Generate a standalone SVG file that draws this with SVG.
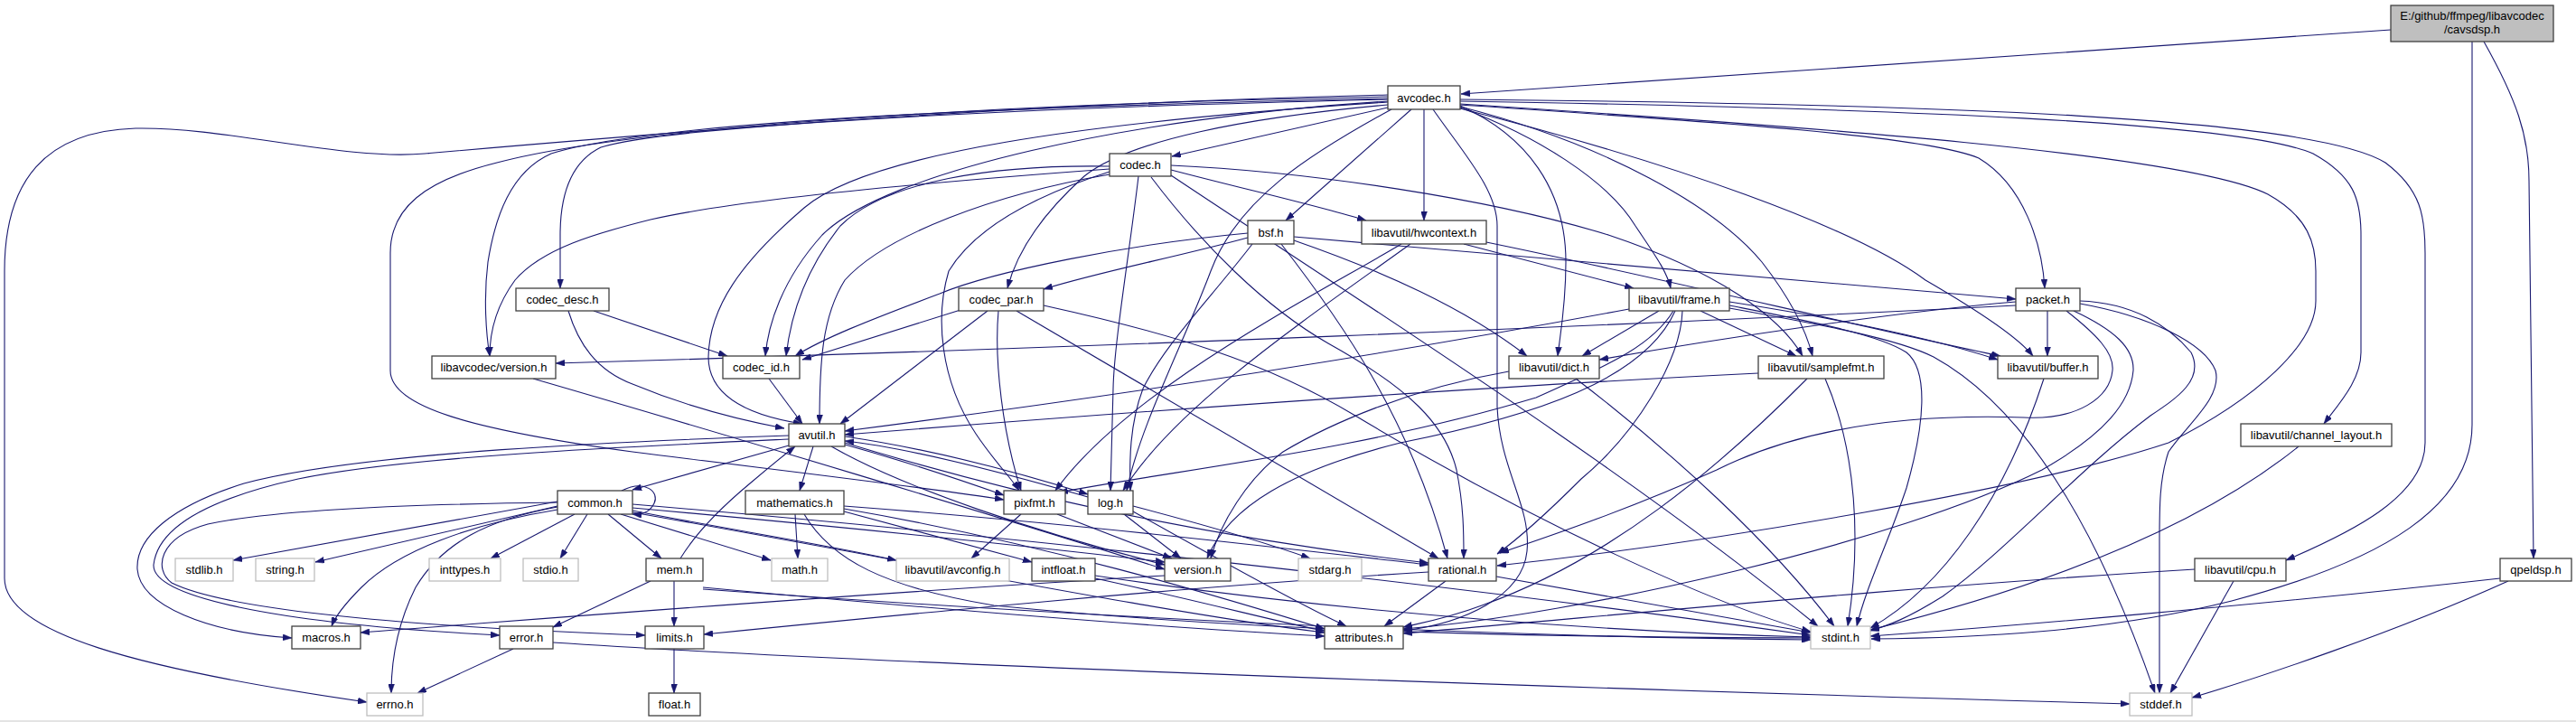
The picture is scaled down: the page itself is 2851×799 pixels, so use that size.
<svg xmlns="http://www.w3.org/2000/svg" width="2851" height="799" viewBox="0 0 2851 799">
<style>
.n rect{fill:#ffffff;stroke:#404040;stroke-width:1.3}
.s rect{fill:#ffffff;stroke:#bfbfbf;stroke-width:1.3}
.r rect{fill:#bfbfbf;stroke:#404040;stroke-width:1.3}
text{font-family:"Liberation Sans",Arial,sans-serif;font-size:13px;text-anchor:middle;fill:#000000}
#edges path{fill:none;stroke:#191970;stroke-width:1.1;marker-end:url(#a)}
</style>
<defs>
<marker id="a" viewBox="0 0 10 7" refX="10" refY="3.5" markerWidth="10" markerHeight="7" markerUnits="userSpaceOnUse" orient="auto"><path d="M0,0L10,3.5L0,7z" fill="#191970" stroke="#191970" stroke-width="0.5"/></marker>
</defs>
<rect x="0" y="0" width="2851" height="799" fill="#ffffff"/>
<line x1="0" y1="798" x2="2851" y2="798" stroke="#c8c8c8" stroke-width="1"/>
<g id="edges">
<path d="M2646,33 C2200,64 1900,84 1617,104"/>
<path d="M2736,46 L2736,470 C2736,560 2640,620 2470,665 C2330,700 2180,706 2071,707"/>
<path d="M2749,46 C2785,110 2799,150 2799,200 L2804,618"/>
<path d="M1536,105 C1100,115 700,150 470,170 C380,178 250,140 150,142 C50,145 5,200 5,300 L5,640 C5,700 150,740 406,777"/>
<path d="M1536,107 C1100,115 700,140 550,180 C470,200 432,230 432,280 L432,410 C432,450 520,475 700,500 C900,525 1030,540 1111,553"/>
<path d="M1536,109 C1100,118 720,135 610,170 C565,190 548,240 540,290 C535,330 538,370 542,394"/>
<path d="M1536,110 C1100,120 740,140 665,163 C630,180 620,220 620,260 L620,319"/>
<path d="M1536,112 C1250,130 980,190 910,260 C865,310 850,360 847,394"/>
<path d="M1536,113 C1200,135 960,170 890,230 C820,290 785,340 784,395 C784,440 830,460 888,469"/>
<path d="M1536,119 L1297,173"/>
<path d="M1536,116 C1380,130 1250,155 1200,195 C1150,240 1125,280 1115,319"/>
<path d="M1540,121 C1450,170 1370,220 1340,300 C1310,380 1262,470 1247,543"/>
<path d="M1562,121 L1423,244"/>
<path d="M1576,121 L1576,244"/>
<path d="M1586,121 C1620,170 1657,210 1657,250 L1657,450 C1660,520 1695,560 1690,610 C1685,660 1620,690 1553,698"/>
<path d="M1616,117 C1690,150 1733,210 1733,290 C1733,340 1726,375 1724,394"/>
<path d="M1616,119 C1700,150 1780,200 1810,250 C1830,280 1845,300 1849,319"/>
<path d="M1616,118 C1780,160 1900,230 1950,290 C1985,335 2000,370 2006,394"/>
<path d="M1616,120 C1850,180 2050,250 2131,310 C2200,350 2235,375 2250,394"/>
<path d="M1616,116 C1900,135 2130,150 2190,175 C2240,205 2260,270 2263,319"/>
<path d="M1616,115 C2000,140 2420,170 2510,215 C2555,240 2563,270 2563,300 L2563,333 C2563,380 2500,440 2400,490 C2250,540 1900,600 1657,626"/>
<path d="M1616,112 C2100,120 2480,135 2560,170 C2605,195 2613,220 2613,260 L2613,390 C2613,420 2590,445 2572,469"/>
<path d="M1616,110 C2150,115 2560,130 2640,180 C2680,210 2684,240 2684,280 L2684,490 C2684,550 2600,590 2530,620"/>
<path d="M1228,187 C1050,200 820,220 720,243 C660,258 600,275 570,310 C548,340 542,370 542,394"/>
<path d="M1228,184 C1100,182 980,200 930,250 C890,300 875,350 870,394"/>
<path d="M1228,193 C1100,215 980,260 935,310 C910,350 907,400 907,469"/>
<path d="M1228,190 C1150,215 1080,250 1050,300 C1035,350 1040,420 1080,480 C1100,510 1120,530 1128,543"/>
<path d="M1260,195 C1250,280 1233,380 1232,430 L1229,543"/>
<path d="M1274,196 C1330,270 1400,340 1470,380 C1560,430 1600,470 1612,520 C1620,560 1620,590 1620,618"/>
<path d="M1296,188 C1380,210 1460,228 1512,244"/>
<path d="M1296,194 C1500,330 1800,520 2012,693"/>
<path d="M1296,183 C1450,190 1650,220 1780,260 C1900,300 1970,350 1995,394"/>
<path d="M1381,258 C1250,270 1100,300 1040,325 C960,355 910,375 880,394"/>
<path d="M1381,263 C1300,285 1220,300 1155,320"/>
<path d="M1432,262 L2231,331"/>
<path d="M1432,266 C1530,300 1620,340 1690,394"/>
<path d="M1386,270 C1340,330 1290,380 1265,430 C1250,470 1250,510 1251,543"/>
<path d="M1418,270 C1480,350 1560,460 1602,618"/>
<path d="M1645,268 C1850,310 2050,360 2214,394"/>
<path d="M1620,270 L1808,319"/>
<path d="M1561,270 C1450,350 1300,450 1243,543"/>
<path d="M1551,270 C1450,330 1250,430 1168,543"/>
<path d="M657,344 L805,394"/>
<path d="M629,344 C640,380 660,410 700,425 C760,450 820,465 868,474"/>
<path d="M1063,343 L888,398"/>
<path d="M1093,344 L930,469"/>
<path d="M1105,344 C1100,400 1110,480 1130,543"/>
<path d="M1125,344 L1592,618"/>
<path d="M1155,338 C1300,370 1400,400 1500,460 C1700,580 1900,670 2004,699"/>
<path d="M1836,344 L1751,394"/>
<path d="M1882,344 L1988,394"/>
<path d="M1803,342 C1600,380 1300,430 935,477"/>
<path d="M1852,344 C1830,380 1790,400 1700,440 C1500,500 1300,520 1172,545"/>
<path d="M1854,344 C1820,420 1700,460 1550,490 C1430,520 1360,560 1336,618"/>
<path d="M1862,344 C1860,400 1810,480 1750,530 C1710,570 1675,600 1657,613"/>
<path d="M1914,334 C2050,355 2150,378 2211,398"/>
<path d="M1914,338 C2000,355 2080,370 2110,390 C2135,410 2130,470 2110,540 C2090,600 2065,650 2055,693"/>
<path d="M1914,341 C2020,360 2100,375 2140,395 C2240,450 2320,580 2385,767"/>
<path d="M2231,338 C1800,360 1200,385 615,402"/>
<path d="M2231,334 C2100,345 1900,375 1770,398"/>
<path d="M2266,344 L2266,394"/>
<path d="M2287,344 C2320,370 2340,390 2338,410 C2335,440 2300,465 2240,462 C2120,458 2000,470 1900,520 C1800,565 1710,595 1660,612"/>
<path d="M2295,344 C2340,365 2362,385 2361,410 C2358,445 2330,480 2260,520 C2100,600 1750,680 1553,696"/>
<path d="M2302,333 C2360,335 2400,360 2425,390 C2440,420 2410,440 2380,460 C2300,520 2220,610 2150,660 C2110,685 2090,692 2070,698"/>
<path d="M2302,336 C2380,350 2440,380 2452,410 C2460,440 2420,470 2400,500 C2390,530 2390,560 2390,600 L2390,767"/>
<path d="M590,419 C800,480 1100,570 1289,630"/>
<path d="M851,419 L888,469"/>
<path d="M1744,419 C1850,500 1960,600 2030,693"/>
<path d="M1670,411 C1560,430 1470,470 1420,500 C1380,530 1350,580 1340,618"/>
<path d="M1946,413 C1600,430 1200,460 935,481"/>
<path d="M2020,419 C2055,500 2060,600 2045,693"/>
<path d="M2000,419 C1900,520 1780,620 1640,670 C1600,685 1570,690 1553,694"/>
<path d="M2262,419 C2220,550 2150,650 2070,695"/>
<path d="M873,493 L700,542"/>
<path d="M873,486 C700,494 450,505 330,530 C240,550 175,580 170,625 C168,660 300,690 553,703"/>
<path d="M873,482 C700,488 400,500 270,535 C190,560 150,595 152,630 C155,670 230,700 323,706"/>
<path d="M935,490 C1100,540 1300,590 1581,623"/>
<path d="M920,494 C1000,540 1150,590 1289,625"/>
<path d="M900,494 L885,543"/>
<path d="M935,483 C1050,500 1150,530 1204,547"/>
<path d="M935,492 C1000,510 1060,530 1111,548"/>
<path d="M2544,494 C2450,570 2300,640 2070,697"/>
<path d="M688,543 C715,530 730,545 724,557 C719,567 711,570 700,569"/>
<path d="M617,555 L258,620"/>
<path d="M617,560 L349,622"/>
<path d="M636,569 L543,618"/>
<path d="M650,569 L620,618"/>
<path d="M673,569 L732,618"/>
<path d="M687,569 L853,620"/>
<path d="M700,565 C800,585 900,600 992,620"/>
<path d="M700,562 C900,580 1100,600 1289,622"/>
<path d="M700,567 C1000,620 1300,680 1466,700"/>
<path d="M700,558 C1200,600 1700,660 2004,703"/>
<path d="M617,556 C450,558 300,565 230,580 C175,595 170,630 190,645 C260,680 500,695 714,703"/>
<path d="M617,561 C540,575 490,600 460,650 C440,690 433,730 433,767"/>
<path d="M617,564 C520,580 440,610 400,650 C380,670 370,685 367,693"/>
<path d="M880,569 L883,618"/>
<path d="M934,566 L1142,622"/>
<path d="M934,560 C1200,580 1450,610 1581,625"/>
<path d="M934,563 C1150,600 1350,660 1466,696"/>
<path d="M890,569 C920,620 980,650 1100,670 C1400,700 1700,705 2004,706"/>
<path d="M1130,569 L1075,618"/>
<path d="M1170,569 L1297,618"/>
<path d="M1204,550 C1100,520 1000,495 935,488"/>
<path d="M1254,560 C1330,580 1400,600 1450,618"/>
<path d="M1254,566 C1350,620 1440,670 1490,693"/>
<path d="M1244,569 L1307,618"/>
<path d="M746,643 L746,693"/>
<path d="M753,618 C770,590 800,560 830,535 C850,518 866,505 880,494"/>
<path d="M720,643 L612,694"/>
<path d="M778,650 C1100,680 1300,695 1466,704"/>
<path d="M778,652 C1300,690 1700,705 2004,708"/>
<path d="M568,718 L462,767"/>
<path d="M612,711 C900,730 1500,755 2357,779"/>
<path d="M746,718 L746,767"/>
<path d="M1212,637 C1500,680 1800,700 2004,705"/>
<path d="M1212,640 C1350,670 1420,690 1466,698"/>
<path d="M1289,637 C900,660 600,685 399,700"/>
<path d="M1656,638 L2004,700"/>
<path d="M1581,633 C1300,650 1000,680 779,702"/>
<path d="M1600,643 L1532,693"/>
<path d="M2429,630 C2100,650 1800,680 1553,701"/>
<path d="M2472,643 L2402,767"/>
<path d="M2767,640 C2500,670 2200,695 2070,704"/>
<path d="M2776,643 C2650,700 2500,750 2426,772"/>
</g>
<g id="n_cavsdsp" class="r"><rect x="2646" y="6" width="180" height="40"/><text x="2736" y="22">E:/github/ffmpeg/libavcodec</text><text x="2736" y="37">/cavsdsp.h</text></g>
<g id="n_avcodec" class="n"><rect x="1536" y="95" width="80" height="26"/><text x="1576" y="112.5">avcodec.h</text></g>
<g id="n_codec" class="n"><rect x="1228" y="170" width="68" height="25"/><text x="1262" y="187">codec.h</text></g>
<g id="n_bsf" class="n"><rect x="1381" y="244" width="51" height="26"/><text x="1406.5" y="261.5">bsf.h</text></g>
<g id="n_hwcontext" class="n"><rect x="1507" y="244" width="138" height="26"/><text x="1576" y="261.5">libavutil/hwcontext.h</text></g>
<g id="n_codec_desc" class="n"><rect x="571" y="319" width="103" height="25"/><text x="622.5" y="336">codec_desc.h</text></g>
<g id="n_codec_par" class="n"><rect x="1061" y="319" width="94" height="25"/><text x="1108" y="336">codec_par.h</text></g>
<g id="n_frame" class="n"><rect x="1803" y="319" width="111" height="25"/><text x="1858.5" y="336">libavutil/frame.h</text></g>
<g id="n_packet" class="n"><rect x="2231" y="319" width="71" height="25"/><text x="2266.5" y="336">packet.h</text></g>
<g id="n_lavc_version" class="n"><rect x="478" y="394" width="137" height="25"/><text x="546.5" y="411">libavcodec/version.h</text></g>
<g id="n_codec_id" class="n"><rect x="800" y="394" width="85" height="25"/><text x="842.5" y="411">codec_id.h</text></g>
<g id="n_dict" class="n"><rect x="1670" y="394" width="100" height="25"/><text x="1720" y="411">libavutil/dict.h</text></g>
<g id="n_samplefmt" class="n"><rect x="1946" y="394" width="139" height="25"/><text x="2015.5" y="411">libavutil/samplefmt.h</text></g>
<g id="n_buffer" class="n"><rect x="2211" y="394" width="111" height="25"/><text x="2266.5" y="411">libavutil/buffer.h</text></g>
<g id="n_avutil" class="n"><rect x="873" y="469" width="62" height="25"/><text x="904" y="486">avutil.h</text></g>
<g id="n_channel_layout" class="n"><rect x="2480" y="469" width="167" height="25"/><text x="2563.5" y="486">libavutil/channel_layout.h</text></g>
<g id="n_common" class="n"><rect x="617" y="543" width="83" height="26"/><text x="658.5" y="560.5">common.h</text></g>
<g id="n_mathematics" class="n"><rect x="825" y="543" width="109" height="26"/><text x="879.5" y="560.5">mathematics.h</text></g>
<g id="n_pixfmt" class="n"><rect x="1111" y="543" width="68" height="26"/><text x="1145" y="560.5">pixfmt.h</text></g>
<g id="n_log" class="n"><rect x="1204" y="543" width="50" height="26"/><text x="1229" y="560.5">log.h</text></g>
<g id="n_stdlib" class="s"><rect x="194" y="618" width="64" height="25"/><text x="226" y="635">stdlib.h</text></g>
<g id="n_string" class="s"><rect x="283" y="618" width="65" height="25"/><text x="315.5" y="635">string.h</text></g>
<g id="n_inttypes" class="s"><rect x="475" y="618" width="79" height="25"/><text x="514.5" y="635">inttypes.h</text></g>
<g id="n_stdio" class="s"><rect x="579" y="618" width="61" height="25"/><text x="609.5" y="635">stdio.h</text></g>
<g id="n_mem" class="n"><rect x="715" y="618" width="63" height="25"/><text x="746.5" y="635">mem.h</text></g>
<g id="n_math" class="s"><rect x="854" y="618" width="62" height="25"/><text x="885" y="635">math.h</text></g>
<g id="n_avconfig" class="s"><rect x="992" y="618" width="125" height="25"/><text x="1054.5" y="635">libavutil/avconfig.h</text></g>
<g id="n_intfloat" class="n"><rect x="1142" y="618" width="70" height="25"/><text x="1177" y="635">intfloat.h</text></g>
<g id="n_version" class="n"><rect x="1289" y="618" width="73" height="25"/><text x="1325.5" y="635">version.h</text></g>
<g id="n_stdarg" class="s"><rect x="1437" y="618" width="70" height="25"/><text x="1472" y="635">stdarg.h</text></g>
<g id="n_rational" class="n"><rect x="1581" y="618" width="75" height="25"/><text x="1618.5" y="635">rational.h</text></g>
<g id="n_cpu" class="n"><rect x="2429" y="618" width="101" height="25"/><text x="2479.5" y="635">libavutil/cpu.h</text></g>
<g id="n_qpeldsp" class="n"><rect x="2767" y="618" width="79" height="25"/><text x="2806.5" y="635">qpeldsp.h</text></g>
<g id="n_macros" class="n"><rect x="323" y="693" width="76" height="25"/><text x="361" y="710">macros.h</text></g>
<g id="n_error" class="n"><rect x="553" y="693" width="59" height="25"/><text x="582.5" y="710">error.h</text></g>
<g id="n_limits" class="n"><rect x="714" y="693" width="65" height="25"/><text x="746.5" y="710">limits.h</text></g>
<g id="n_attributes" class="n"><rect x="1466" y="693" width="87" height="25"/><text x="1509.5" y="710">attributes.h</text></g>
<g id="n_stdint" class="s"><rect x="2004" y="693" width="66" height="25"/><text x="2037" y="710">stdint.h</text></g>
<g id="n_errno" class="s"><rect x="406" y="767" width="62" height="25"/><text x="437" y="784">errno.h</text></g>
<g id="n_float" class="n"><rect x="718" y="767" width="57" height="25"/><text x="746.5" y="784">float.h</text></g>
<g id="n_stddef" class="s"><rect x="2357" y="767" width="69" height="25"/><text x="2391.5" y="784">stddef.h</text></g>
</svg>
